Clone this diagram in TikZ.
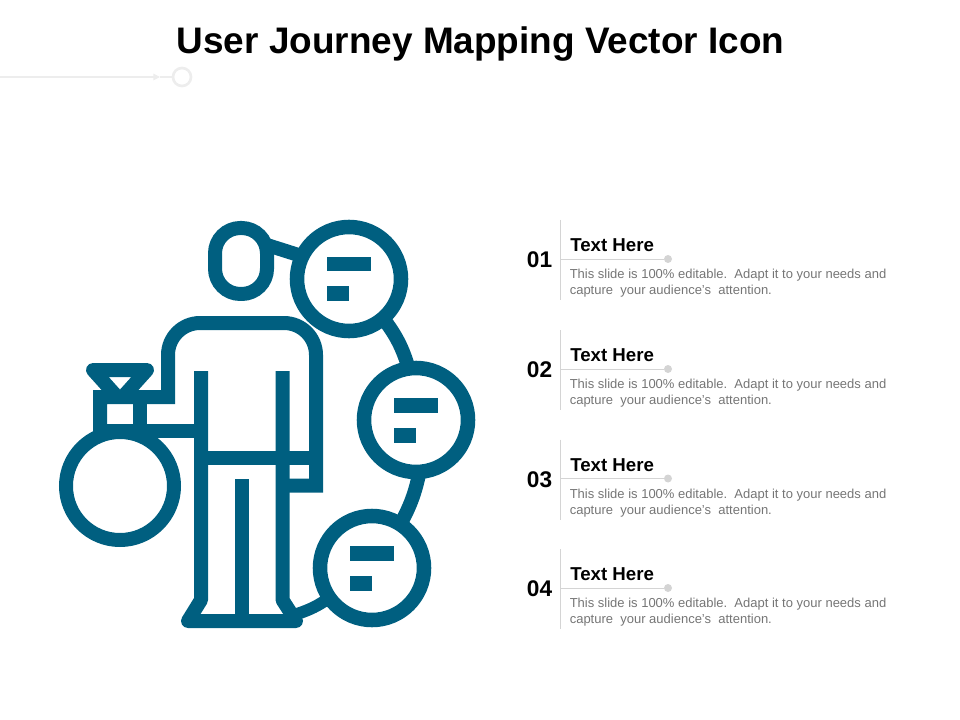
\documentclass[tikz,border=0pt]{standalone}
\usepackage{fontspec}
\setmainfont{Liberation Sans}
\usetikzlibrary{arrows.meta}
\definecolor{icon}{HTML}{005F80}
\definecolor{blurbgray}{HTML}{757575}
\definecolor{rulegray}{HTML}{D4D4D4}
\definecolor{faint}{HTML}{EDEDED}
\newcommand\blurb{This slide is 100\% editable.\ \ Adapt it to your needs and\\capture\ \ your audience\symbol{39}s\ \ attention.}
\begin{document}
\begin{tikzpicture}[x=0.75pt,y=-0.75pt]

\tikzset{stroke/.style={draw=icon,line width=10.5pt,line join=miter}}
\tikzset{lens/.style={circle,draw=icon,line width=10.9pt,minimum size=78pt,inner sep=0pt,outer sep=0pt}}
\tikzset{link/.style={draw=icon,line width=10.5pt}}
\tikzset{number/.style={anchor=base,inner sep=0pt,font=\fontsize{17}{20}\selectfont\bfseries}}
\tikzset{heading/.style={anchor=base west,inner sep=0pt,font=\fontsize{14}{17}\selectfont\bfseries}}
\tikzset{blurbtext/.style={anchor=west,inner sep=0pt,align=left,text=blurbgray,font=\fontsize{9.75}{12}\selectfont}}

\useasboundingbox (0,0) rectangle (960,720);

\node (title) [anchor=base,inner sep=0pt,font=\fontsize{27.7}{32}\selectfont\bfseries] at (480.5,54) {User Journey Mapping Vector Icon};

\coordinate (start) at (0,77);
\node (ring) [circle,draw=faint,line width=2pt,minimum size=13.5pt,inner sep=0pt] at (182,77) {};
\draw [faint,line width=0.8pt,-{Triangle[length=5pt,width=5pt,sep=0pt]}] (start) -- (160,77);
\draw [faint,line width=0.8pt] (160,77) -- (ring);

% lenses
\foreach \n/\x/\y in {1/349/279,2/416/420,3/372/568}{
  \node (lens\n) [lens] at (\x,\y) {};
  \fill [icon] (\x-22.5,\y-22) rectangle (\x+22,\y-7.5);
  \fill [icon] (\x-22.5,\y+7.5) rectangle (\x,\y+22.5);
}

% person
\node (head) [draw=icon,line width=10.5pt,rounded corners=19pt,minimum width=39pt,minimum height=49.5pt,inner sep=0pt,outer sep=0pt] at (241,261) {};
\draw [stroke] (100,431) -- (100,397) -- (168,397) -- (168,355) arc (180:270:32) -- (284,323) arc (270:360:32) -- (316,485.5) -- (282.5,485.5);
\draw [stroke,line join=round] (201,371) -- (201,600) -- (188,621) -- (296,621) -- (282.5,600) -- (282.5,371);
\draw [stroke] (241.5,479) -- (241.5,621);
\draw [stroke] (201,458) -- (316,458);

% sack
\node (sack) [circle,draw=icon,line width=10.5pt,minimum size=81pt,inner sep=0pt,outer sep=0pt] at (120,486) {};
\draw [stroke] (100,431) -- (201,431);
\draw [stroke] (140,397) -- (140,431);
\begin{scope}
  \clip (80,355) rectangle (160,397);
  \draw [stroke,line join=round] (93,370) -- (147,370) -- (120,400) -- cycle;
\end{scope}

% links
\coordinate (toe) at (297,614);
\draw [link] ([yshift=12pt]head.east) -- (lens1.154);
\draw [link] (lens1.-49) to [bend left=10] (lens2.98);
\draw [link] (lens2.-86) to [bend left=8] (lens3.57);
\draw [link,line width=9pt] (lens3.215) to [bend left=8] (toe);

% rows
\foreach \n/\y in {1/259,2/369,3/478.5,4/588}{
  \node (num\n) [number] at (539.5,\y+8.5) {0\n};
  \node (head\n) [heading] at (570,\y-7.5) {Text Here};
  \node (dot\n) [circle,fill=rulegray,minimum size=6pt,inner sep=0pt] at (668,\y) {};
  \coordinate (topend\n) at (560.5,\y-39);
  \coordinate (botend\n) at (560.5,\y+41);
  \coordinate (mid\n) at (560.5,\y);
  \draw [rulegray,line width=0.6pt] (topend\n) -- (botend\n);
  \draw [rulegray,line width=0.6pt] (mid\n) -- (dot\n);
  \node (text\n) [blurbtext] at (569.5,\y+24.5) {\blurb};
}

\end{tikzpicture}
\end{document}
